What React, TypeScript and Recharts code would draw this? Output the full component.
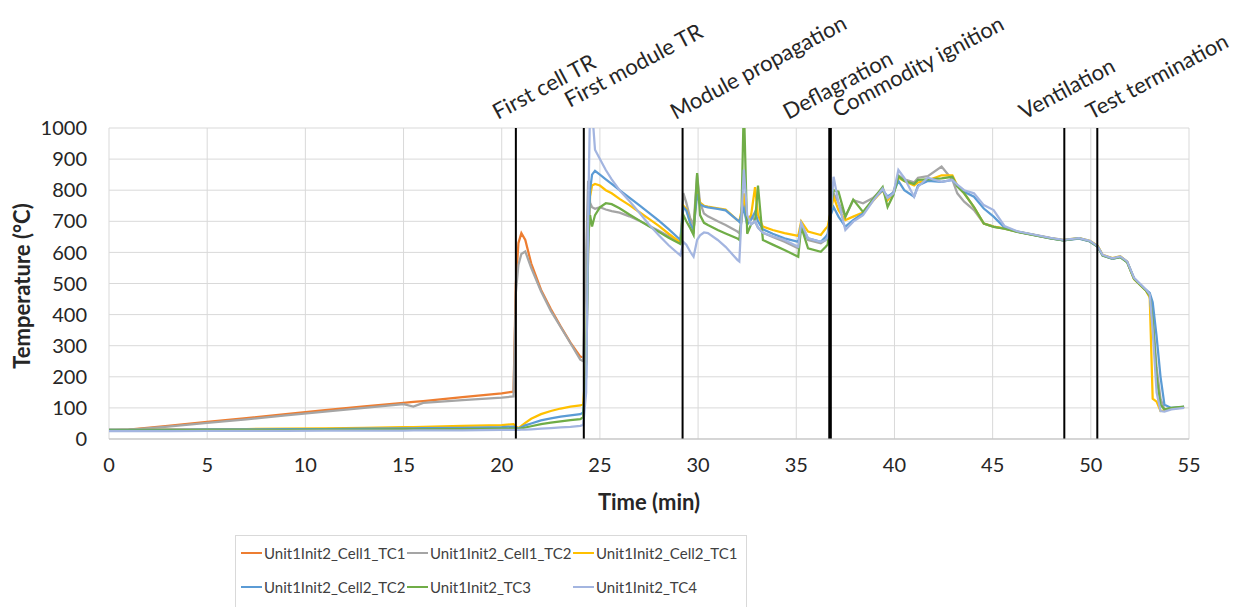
import { LineChart, Line, XAxis, YAxis, CartesianGrid, ReferenceLine, Legend, Label } from "recharts";

// time in minutes, shared by every series
const TIME = [
  0, 1, 3, 5, 7, 9, 11, 13, 15, 15.5,
  16, 18, 20, 20.6, 20.72, 20.85, 21.0, 21.2, 21.5, 22,
  22.5, 23, 23.5, 24.0, 24.15, 24.3, 24.4, 24.5, 24.6, 24.75,
  25.0, 25.3, 25.6, 26, 26.5, 27, 27.5, 28, 28.5, 29.1,
  29.25, 29.4, 29.6, 29.77, 29.95, 30.1, 30.3, 30.5, 31.0, 31.4,
  32.0, 32.1, 32.2, 32.33, 32.5, 32.7, 32.9, 33.05, 33.3, 33.8,
  34.4, 35.1, 35.25, 35.6, 36.25, 36.5, 36.6, 36.75, 36.9, 37.15,
  37.5, 37.9, 38.4, 38.9, 39.4, 39.65, 39.95, 40.2, 40.5, 41.0,
  41.2, 41.7, 42.4, 42.95, 43.2, 43.55, 44.05, 44.55, 45.05, 45.6,
  46.25, 47.95, 48.6, 49.4, 49.95, 50.35, 50.6, 51.1, 51.5, 51.85,
  52.2, 52.8, 53.0, 53.15, 53.35, 53.55, 53.75, 54.1, 54.75,
];

// Cell1_TC1 stops recording after first module TR
const CELL1_TC1 = [
  28, 30, 42, 55, 67, 80, 93, 105, 116, 119,
  122, 135, 147, 152, 500, 630, 662, 640, 565, 480,
  418, 362, 310, 265, 262,
];

const CELL1_TC2 = [
  28, 29, 40, 52, 63, 76, 88, 100, 112, 104,
  116, 125, 133, 137, 470, 560, 595, 603, 550, 475,
  412, 360, 308, 255, 250, 600, 830, 760, 745, 740,
  745, 738, 733, 728, 716, 702, 686, 670, 652, 632,
  791, 760, 710, 688, 850, 760, 725, 716, 700, 688,
  667, 662, 700, 760, 690, 720, 700, 680, 663, 650,
  634, 613, 690, 640, 629, 640, 650, 740, 790, 760,
  715, 768, 758, 775, 805, 770, 795, 848, 835, 825,
  840, 845, 876, 833, 790, 763, 736, 693, 683, 676,
  667, 646, 639, 645, 636, 619, 591, 580, 586, 570,
  516, 479, 465, 400, 230, 130, 95, 98, 103,
];

const CELL2_TC1 = [
  30, 30, 31, 31, 32, 33, 34, 36, 38, 38,
  39, 42, 45, 48, 40, 35, 42, 52, 65, 80,
  90, 98, 104, 108, 112, 250, 600, 780, 815, 820,
  815, 800, 790, 772, 752, 730, 708, 685, 660, 632,
  750, 740, 694, 672, 799, 760, 750, 747, 742, 738,
  704, 700, 730, 790, 700, 720, 810, 720, 683, 672,
  662, 653, 700, 667, 656, 677, 683, 730, 779, 736,
  704, 715, 728, 765, 800, 768, 790, 840, 830, 815,
  825, 832, 848, 848, 815, 790, 746, 693, 683, 677,
  667, 646, 640, 646, 637, 621, 592, 582, 588, 570,
  514, 478, 455, 130, 120, 90, 92, 98, 102,
];

const CELL2_TC2 = [
  30, 30, 30, 31, 31, 32, 32, 33, 34, 34,
  35, 36, 38, 40, 36, 34, 38, 44, 50, 60,
  66, 72, 76, 80, 85, 200, 600, 800, 850, 862,
  850, 835, 820, 800, 776, 752, 727, 702, 675, 640,
  745, 735, 694, 672, 788, 755, 748, 745, 740, 735,
  704, 698, 720, 740, 690, 705, 730, 700, 674, 660,
  645, 634, 690, 645, 634, 650, 660, 720, 746, 715,
  683, 704, 725, 770, 800, 780, 792, 830, 800, 779,
  815, 830, 827, 833, 815, 795, 779, 741, 715, 680,
  667, 645, 639, 644, 635, 618, 590, 579, 585, 569,
  517, 480, 470, 440, 330, 200, 110, 100, 103,
];

const TC3 = [
  28, 28, 28, 29, 29, 29, 30, 30, 31, 31,
  31, 32, 33, 34, 33, 32, 34, 37, 41, 48,
  53, 57, 61, 64, 70, 250, 650, 720, 683, 720,
  745, 758, 755, 742, 722, 703, 684, 666, 647, 627,
  720, 700, 678, 656, 855, 720, 695, 688, 672, 661,
  645, 640, 700, 1080, 660, 690, 700, 815, 640, 625,
  608, 586, 683, 613, 602, 618, 625, 740, 800, 795,
  715, 770, 730, 770, 810, 746, 785, 845, 830, 820,
  833, 835, 838, 843, 812, 790, 746, 693, 682, 676,
  666, 645, 639, 646, 636, 619, 590, 580, 585, 568,
  515, 478, 460, 380, 200, 110, 95, 100, 104,
];

const TC4 = [
  25, 25, 25, 26, 26, 26, 27, 27, 27, 28,
  28, 28, 29, 29, 29, 29, 30, 30, 31, 33,
  35, 37, 39, 42, 45, 150, 700, 1080, 1060, 930,
  900, 865, 835, 800, 765, 728, 690, 655, 623, 590,
  634, 625, 602, 586, 640, 655, 664, 662, 640, 618,
  576, 571, 700, 866, 720, 690, 700, 680, 663, 652,
  640, 618, 695, 645, 634, 640, 650, 720, 843, 760,
  672, 699, 720, 765, 805, 775, 790, 865, 840, 779,
  811, 840, 827, 833, 818, 800, 790, 752, 736, 685,
  668, 647, 640, 646, 637, 620, 592, 581, 587, 571,
  518, 481, 465, 350, 150, 90, 88, 95, 100,
];

const EVENT_NAMES = [
  "First cell TR",
  "First module TR",
  "Module propagation",
  "Deflagration",
  "Commodity ignition",
  "Ventilation",
  "Test termination",
];
const EVENT_TIMES = [20.72, 24.18, 29.21, 36.68, 36.76, 48.65, 50.33];

const X_TICKS = [0, 5, 10, 15, 20, 25, 30, 35, 40, 45, 50, 55];
const Y_TICKS = [0, 100, 200, 300, 400, 500, 600, 700, 800, 900, 1000];

const SERIES = [
  { key: "c1tc1", name: "Unit1Init2_Cell1_TC1", color: "#ED7D31", values: CELL1_TC1 },
  { key: "c1tc2", name: "Unit1Init2_Cell1_TC2", color: "#A5A5A5", values: CELL1_TC2 },
  { key: "c2tc1", name: "Unit1Init2_Cell2_TC1", color: "#FFC000", values: CELL2_TC1 },
  { key: "c2tc2", name: "Unit1Init2_Cell2_TC2", color: "#5B9BD5", values: CELL2_TC2 },
  { key: "tc3", name: "Unit1Init2_TC3", color: "#70AD47", values: TC3 },
  { key: "tc4", name: "Unit1Init2_TC4", color: "#A3B5E0", values: TC4 },
];

const rows = TIME.map((t, i) => {
  const r: Record<string, number | null> = { t };
  SERIES.forEach((s) => {
    r[s.key] = s.values[i] ?? null;
  });
  return r;
});

const FONT = "Lato, 'Noto Sans', sans-serif";
const TEXT = "#262626";
// where each rotated event label starts, relative to the top of its line
const LABEL_DX = [-18, -14, -7, -41, 7, -40, -6];
const LABEL_DY = [-8, -20, -8, -8, -10, -8, -8];

function EventLabel(props: any) {
  const { viewBox, text, idx } = props;
  const x = viewBox.x + LABEL_DX[idx];
  const y = viewBox.y + LABEL_DY[idx];
  return (
    <text x={x} y={y} transform={`rotate(-28 ${x} ${y})`} fontSize={22} fill={TEXT} fontFamily={FONT}>
      {text}
    </text>
  );
}

function LegendBox() {
  return (
    <div
      style={{
        border: "1px solid #D9D9D9",
        width: 512,
        height: 80,
        boxSizing: "border-box",
        padding: "5px 0 0 5px",
        display: "grid",
        gridTemplateColumns: "166px 166px 166px",
        alignContent: "start",
        rowGap: 10,
        fontFamily: FONT,
        fontSize: 15,
        color: "#404040",
      }}
    >
      {SERIES.map((s) => (
        <div key={s.key} style={{ display: "flex", alignItems: "center", height: 24, whiteSpace: "nowrap" }}>
          <span style={{ width: 21, height: 2, background: s.color, marginRight: 2, flex: "none" }} />
          <span>{s.name}</span>
        </div>
      ))}
    </div>
  );
}

export default function App() {
  return (
    <div style={{ position: "absolute", left: 0, top: 0, width: 1238, height: 607, background: "#fff", fontFamily: FONT }}>
      <LineChart width={1238} height={607} data={rows} margin={{ top: 128, right: 49, left: 49, bottom: 138 }}>
        <CartesianGrid stroke="#D9D9D9" strokeWidth={1} />
        <XAxis
          dataKey="t"
          type="number"
          domain={[0, 55]}
          ticks={X_TICKS}
          interval={0}
          height={30}
          axisLine={{ stroke: "#BFBFBF" }}
          tickLine={false}
          tickMargin={13}
          tick={{ fontSize: 20, fill: TEXT }}
        >
          <Label value="Time (min)" position="bottom" offset={25} fontSize={22} fontWeight="bold" fill={TEXT} />
        </XAxis>
        <YAxis
          type="number"
          domain={[0, 1000]}
          ticks={Y_TICKS}
          interval={0}
          width={60}
          allowDataOverflow
          axisLine={false}
          tickLine={false}
          tickMargin={16}
          tick={{ fontSize: 20, fill: TEXT }}
        >
          <Label
            content={() => (
              <text
                x={21}
                y={286}
                transform="rotate(-90 21 286)"
                textAnchor="middle"
                dominantBaseline="central"
                fontSize={22}
                fontWeight="bold"
                fill={TEXT}
                fontFamily={FONT}
              >
                Temperature (°C)
              </text>
            )}
          />
        </YAxis>
        {SERIES.map((s) => (
          <Line
            key={s.key}
            dataKey={s.key}
            name={s.name}
            stroke={s.color}
            strokeWidth={2.25}
            dot={false}
            type="linear"
            connectNulls={false}
            isAnimationActive={false}
          />
        ))}
        {EVENT_TIMES.map((t, i) => (
          <ReferenceLine
            key={EVENT_NAMES[i]}
            x={t}
            stroke="#000"
            strokeWidth={2}
            label={<EventLabel text={EVENT_NAMES[i]} idx={i} />}
          />
        ))}
        <Legend
          layout="horizontal"
          verticalAlign="middle"
          align="center"
          wrapperStyle={{ left: 235, top: 535, width: 512, height: 80 }}
          content={() => <LegendBox />}
        />
      </LineChart>
    </div>
  );
}
